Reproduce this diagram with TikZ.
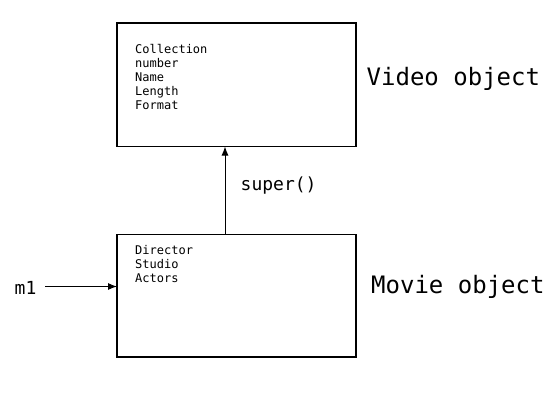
\documentclass[tikz,border=0pt]{standalone}
\usepackage{fontspec}
\setmainfont{DejaVu Sans Mono}
\usetikzlibrary{arrows.meta}
\begin{document}
\begin{tikzpicture}[x=1pt,y=-1pt,
  objbox/.style={draw=black,line width=1.6pt},
  fieldtext/.style={anchor=north west,inner sep=0pt,align=left,font=\fontsize{12}{14}\selectfont},
  bigtext/.style={anchor=base west,inner sep=0pt,font=\fontsize{24}{28}\selectfont},
  midtext/.style={anchor=base west,inner sep=0pt,font=\fontsize{18}{22}\selectfont},
  link/.style={line width=1pt,-{Latex[length=9pt,width=7pt]}}]
\useasboundingbox (0,0) rectangle (550,400);
\draw[objbox] (117,23) rectangle (356,146.5);
\coordinate (vtop) at (225,146.5);
\draw[objbox] (117,234.5) rectangle (356,357);
\coordinate (mtop) at (225,234.5);
\coordinate (mleft) at (117,286.5);
\node[fieldtext] (vfields) at (135,44.5) {Collection\\number\\Name\\Length\\Format};
\node[fieldtext] (mfields) at (135,245.5) {Director\\Studio\\Actors};
\node[bigtext] (vlabel) at (366.5,85) {Video object};
\node[bigtext] (mlabel) at (371,293) {Movie object};
\node[midtext] (sup) at (240.5,190) {super()};
\node[midtext] (m1) at (14.5,294) {m1};
\draw[link] (mtop) -- (vtop);
\draw[link] (45,286.5) -- (mleft);
\end{tikzpicture}
\end{document}
